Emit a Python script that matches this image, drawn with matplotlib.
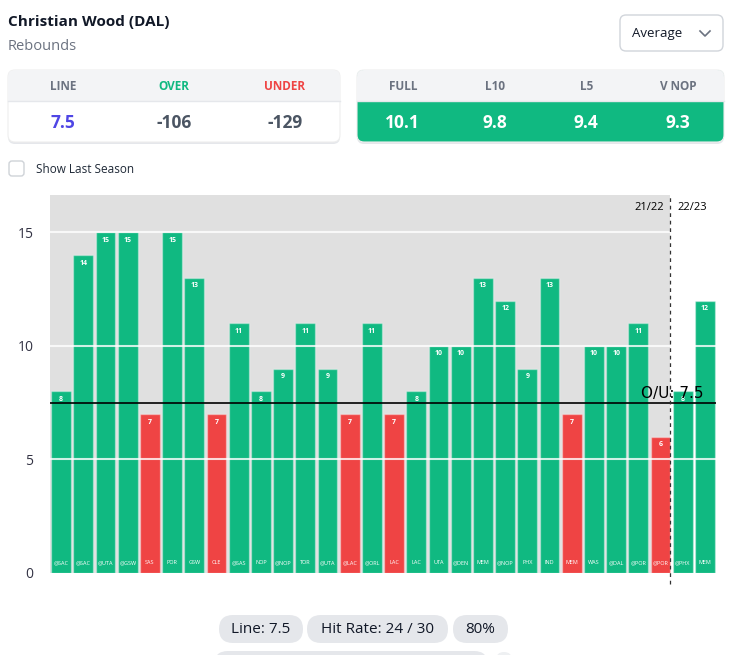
import matplotlib
matplotlib.use('Agg')
import matplotlib.pyplot as plt
from matplotlib.patches import FancyBboxPatch, Rectangle

plt.rcParams['font.family'] = ['Open Sans', 'DejaVu Sans']

# data
opponents = ['@SAC', '@SAC', '@UTA', '@GSW', 'SAS', 'POR', 'GSW', 'CLE', '@SAS', 'NOP',
             '@NOP', 'TOR', '@UTA', '@LAC', '@ORL', 'LAC', 'LAC', 'UTA', '@DEN', 'MEM',
             '@NOP', 'PHX', 'IND', 'MEM', 'WAS', '@DAL', '@POR', '@POR', '@PHX', 'MEM']
rebounds = [8, 14, 15, 15, 7, 15, 13, 7, 11, 8,
            9, 11, 9, 7, 11, 7, 8, 10, 10, 13,
            12, 9, 13, 7, 10, 10, 11, 6, 8, 12]
prop_line = 7.5
games_2122 = 28  # first 28 games are last season
line_labels = ['LINE', 'OVER', 'UNDER']
line_values = ['7.5', '-106', '-129']
avg_labels = ['FULL', 'L10', 'L5', 'V NOP']
avg_values = ['10.1', '9.8', '9.4', '9.3']

green = '#10b981'
red = '#ef4444'
grey_bg = '#e0e0e0'
text_grey = '#6b7280'
dark = '#111827'

W, H = 732, 655
fig = plt.figure(figsize=(W / 100, H / 100), dpi=100)

# overlay axes in pixel coords for the UI bits
ui = fig.add_axes([0, 0, 1, 1])
ui.set_xlim(0, W)
ui.set_ylim(H, 0)
ui.axis('off')

ui.text(8, 22, 'Christian Wood (DAL)', fontsize=11, fontweight='bold', color=dark, va='center')
ui.text(8, 46, 'Rebounds', fontsize=10.5, color=text_grey, va='center')

# dropdown
ui.add_patch(FancyBboxPatch((620, 15), 103, 36, boxstyle='round,pad=0,rounding_size=6',
                            facecolor='white', edgecolor='#d1d5db', linewidth=1))
ui.text(632, 33.5, 'Average', fontsize=9.5, color=dark, va='center')
ui.plot([700, 705, 710], [31, 36, 31], color=text_grey, lw=1.2)


def card(x0, x1, labels, values, lab_colors, val_colors, row_color):
    # shadow
    ui.add_patch(FancyBboxPatch((x0, 72), x1 - x0, 72, boxstyle='round,pad=0,rounding_size=7',
                                facecolor='#e5e7eb', edgecolor='none'))
    ui.add_patch(FancyBboxPatch((x0, 70), x1 - x0, 72, boxstyle='round,pad=0,rounding_size=7',
                                facecolor=row_color, edgecolor='#eeeeee', linewidth=0.8))
    ui.add_patch(FancyBboxPatch((x0, 70), x1 - x0, 31, boxstyle='round,pad=0,rounding_size=7',
                                facecolor='#f3f4f6', edgecolor='none'))
    ui.add_patch(Rectangle((x0, 90), x1 - x0, 11, facecolor='#f3f4f6', edgecolor='none'))
    ui.plot([x0, x1], [101, 101], color='#e5e7eb', lw=1)
    n = len(labels)
    step = (x1 - x0) / n
    for i in range(n):
        cx = x0 + step * (i + 0.5)
        ui.text(cx, 86, labels[i], fontsize=8.5, fontweight='bold', color=lab_colors[i],
                ha='center', va='center')
        ui.text(cx, 123, values[i], fontsize=12.5, fontweight='bold', color=val_colors[i],
                ha='center', va='center')


card(8, 340, line_labels, line_values, [text_grey, green, red],
     ['#4f46e5', '#4b5563', '#4b5563'], 'white')
card(357, 724, avg_labels, avg_values, [text_grey] * 4, ['white'] * 4, green)

# checkbox
ui.add_patch(FancyBboxPatch((9, 161), 15, 15, boxstyle='round,pad=0,rounding_size=3',
                            facecolor='white', edgecolor='#cfd3d8', linewidth=1))
ui.text(36, 169.5, 'Show Last Season', fontsize=8.5, color='#1f2937', va='center')

# pills at bottom
pills = [(219, 303, 'Line: 7.5'), (307, 448, 'Hit Rate: 24 / 30'), (453, 508, '80%')]
for x0, x1, txt in pills:
    ui.add_patch(FancyBboxPatch((x0, 615), x1 - x0, 28, boxstyle='round,pad=0,rounding_size=14',
                                facecolor='#e5e7eb', edgecolor='none'))
    ui.text((x0 + x1) / 2, 629.5, txt, fontsize=11, color=dark, ha='center', va='center')
ui.add_patch(FancyBboxPatch((214, 651), 274, 28, boxstyle='round,pad=0,rounding_size=14',
                            facecolor='#e5e7eb', edgecolor='none'))
ui.add_patch(FancyBboxPatch((496, 652), 16, 28, boxstyle='round,pad=0,rounding_size=8',
                            facecolor='#eef0f2', edgecolor='none'))

# chart
ax = fig.add_axes([50 / W, 82 / H, 666 / W, 378 / H])
n = len(rebounds)
xs = list(range(n))
colors = [green if v > prop_line else red for v in rebounds]
ax.set_xlim(-0.5, n - 0.5)
ax.set_ylim(0, 16.65)
divider = games_2122 - 0.55
ax.axvspan(-0.5, divider, color=grey_bg, zorder=0, lw=0)
ax.bar(xs, rebounds, width=0.9, color=colors, edgecolor=[(1, 1, 1, 0.35)] * n,
       linewidth=1, zorder=2)
for y in [5, 10, 15]:
    ax.axhline(y, color='white', lw=1.5, alpha=0.8, zorder=3)
for x, v, t in zip(xs, rebounds, opponents):
    ax.text(x, v - 0.35, str(v), fontsize=5, fontweight='bold', color='white',
            ha='center', va='center', zorder=4)
    ax.text(x, 0.45, t, fontsize=4, color='white', ha='center', va='center', zorder=4)

ax.axhline(prop_line, color='black', lw=1.2, zorder=5)
ax.text(n - 0.5 - 0.55, prop_line + 0.08, 'O/U: 7.5', fontsize=11, color='black',
        ha='right', va='bottom', zorder=6, family=['DejaVu Sans'])
ax.axvline(divider, ymin=-0.03, ymax=1, color='#333333', lw=0.9, ls=(0, (3, 3)),
           clip_on=False, zorder=5)
ax.text(divider - 0.3, 16.1, '21/22', fontsize=8, color='black', ha='right', va='center')
ax.text(divider + 0.3, 16.1, '22/23', fontsize=8, color='black', ha='left', va='center')

ax.set_xticks([])
ax.set_yticks([0, 5, 10, 15])
ax.tick_params(axis='y', length=0, labelsize=10, labelcolor='#333344', pad=12)
for s in ax.spines.values():
    s.set_visible(False)

fig.savefig('out.png', dpi=100, facecolor='white')
